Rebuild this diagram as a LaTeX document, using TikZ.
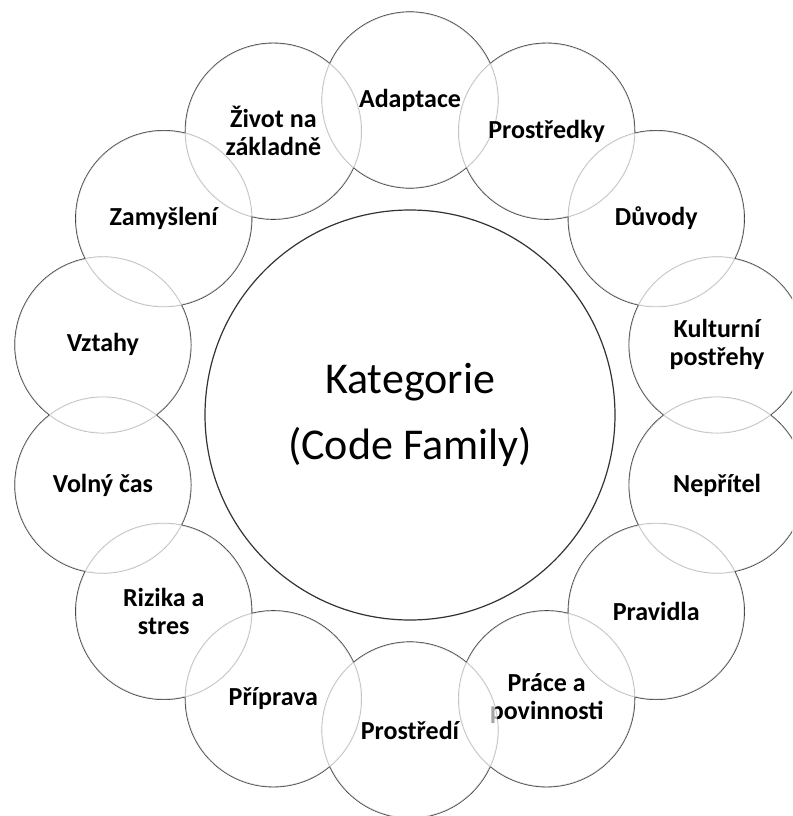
\documentclass[tikz,border=0pt]{standalone}
\usepackage{fontspec}
\setmainfont{Carlito}
\begin{document}
\begin{tikzpicture}[x=1pt,y=-1pt,
  hub/.style={circle, minimum size=410pt, inner sep=0pt, draw=black!80, line width=1.2pt,
    fill=white, align=center, font=\fontsize{44}{66}\selectfont},
  ringline/.style={draw=black!80, line width=1.2pt},
  petal/.style={circle, minimum size=176pt, inner sep=0pt, fill=white, fill opacity=0.65,
    text opacity=1, align=center, font=\fontsize{26}{28}\selectfont\bfseries},
]
\useasboundingbox (0,0) rectangle (792,816);
\clip (0,0) rectangle (792,816);

% centre of the ring and its radius
\def\cx{410}\def\cy{415}\def\rr{315}

% outlines of the outer circles first, so the fills soften the overlapping arcs
\foreach \k in {0,...,13}{
  \pgfmathsetmacro\a{90-\k*360/14}
  \draw[ringline] ({\cx+\rr*cos(\a)},{\cy-\rr*sin(\a)}) circle[radius=88];
}

% translucent fills and labels, clockwise from the top
\foreach \n/\t [count=\k from 0] in {
  adapt/{Adaptace},
  prostredky/{Prostředky},
  duvody/{Důvody},
  kultura/{Kulturní\\postřehy},
  nepritel/{Nepřítel},
  pravidla/{Pravidla},
  prace/{Práce a\\povinnosti},
  prostredi/{Prostředí},
  priprava/{Příprava},
  rizika/{Rizika a\\stres},
  volno/{Volný čas},
  vztahy/{Vztahy},
  zamysleni/{Zamyšlení},
  zivot/{Život na\\základně}}{
  \pgfmathsetmacro\a{90-\k*360/14}
  \node[petal] (\n) at ({\cx+\rr*cos(\a)},{\cy-\rr*sin(\a)}) {\t};
}

% central category
\node[hub] (hub) at (\cx,\cy) {Kategorie\\(Code Family)};
\end{tikzpicture}
\end{document}
